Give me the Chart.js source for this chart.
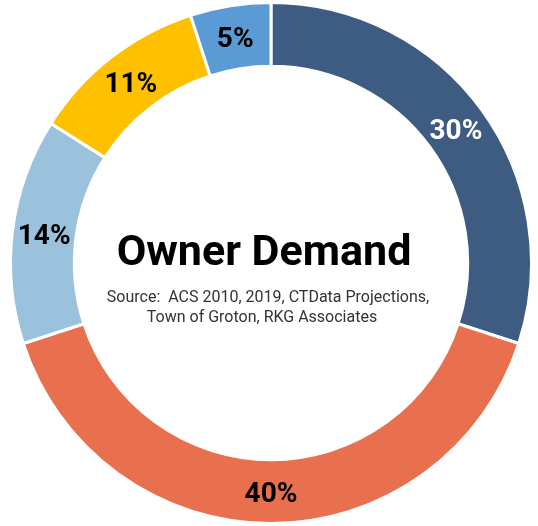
<!DOCTYPE html>
<html>
<head>
<meta charset="utf-8">
<script src="https://cdn.jsdelivr.net/npm/chart.js@4"></script>
<style>
  html, body { margin: 0; padding: 0; background: #fff; }
  #wrap { width: 538px; height: 526px; }
</style>
</head>
<body>
<div id="wrap"><canvas id="demandChart"></canvas></div>
<script>
// Owner demand shares, clockwise from 12 o'clock
const categories = ['Segment A', 'Segment B', 'Segment C', 'Segment D', 'Segment E'];
const shares = [30, 40, 14, 11, 5];
const sliceColors = ['#3E5B81', '#E8704F', '#9BC2DC', '#FFC000', '#5B9BD5'];
const labelColors = ['#ffffff', '#000000', '#000000', '#000000', '#000000'];

const titleText = 'Owner Demand';
const sourceLines = ['Source:  ACS 2010, 2019, CTData Projections,', 'Town of Groton, RKG Associates'];

// Percent labels sitting in the middle of each ring segment
const sliceLabels = {
    id: 'sliceLabels',
    afterDatasetsDraw(chart) {
        const ctx = chart.ctx;
        const meta = chart.getDatasetMeta(0);
        ctx.save();
        ctx.font = 'bold 28px Roboto';
        ctx.textAlign = 'center';
        ctx.textBaseline = 'middle';
        meta.data.forEach((arc, i) => {
            const pos = arc.tooltipPosition();
            ctx.fillStyle = labelColors[i];
            ctx.fillText(shares[i] + '%', pos.x, pos.y + 3);
        });
        ctx.restore();
    }
};

// Title and source text inside the hole
const centerText = {
    id: 'centerText',
    afterDraw(chart) {
        const ctx = chart.ctx;
        const arc = chart.getDatasetMeta(0).data[0];
        const cx = arc.x;
        const cy = arc.y;
        ctx.save();
        ctx.textAlign = 'center';
        ctx.textBaseline = 'alphabetic';
        ctx.fillStyle = '#000000';
        ctx.font = 'bold 43px Roboto';
        ctx.fillText(titleText, cx - 7, cy + 2);
        ctx.fillStyle = '#333333';
        ctx.font = '16px Roboto';
        ctx.fillText(sourceLines[0], cx - 3, cy + 39);
        ctx.fillText(sourceLines[1], cx - 9, cy + 59);
        ctx.restore();
    }
};

new Chart(document.getElementById('demandChart').getContext('2d'), {
    type: 'doughnut',
    data: {
        labels: categories,
        datasets: [{
            data: shares,
            backgroundColor: sliceColors,
            borderColor: '#ffffff',
            borderWidth: 3
        }]
    },
    options: {
        responsive: true,
        maintainAspectRatio: false,
        animation: false,
        cutout: '75.5%',
        layout: { padding: { top: 1, bottom: 1, left: 4, right: 0 } },
        plugins: {
            legend: { display: false },
            tooltip: { enabled: false }
        }
    },
    plugins: [sliceLabels, centerText]
});
</script>
</body>
</html>
